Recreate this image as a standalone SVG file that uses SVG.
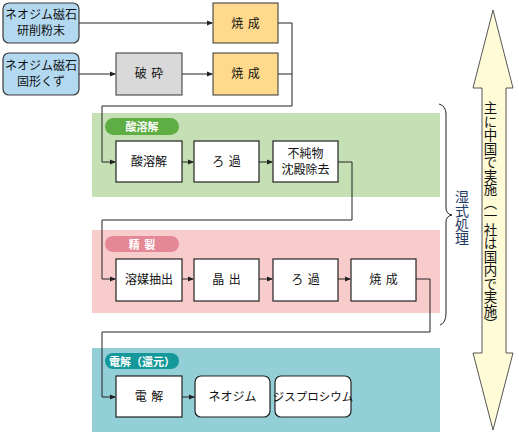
<svg xmlns="http://www.w3.org/2000/svg" width="519" height="435" viewBox="0 0 519 435">
<style>
text{font-family:"Noto Sans CJK JP","Noto Sans CJK SC",sans-serif;fill:#111;}
.t{font-size:12px;text-anchor:middle;}
.sp{word-spacing:2px;}
.pl{font-size:11px;font-weight:bold;fill:#fff;text-anchor:middle;}
.box{fill:#fff;stroke:#222;stroke-width:1.2;}
.src{fill:#b3d9f1;stroke:#3a3a3a;stroke-width:1.2;}
.y{fill:#ffd98c;stroke:#333;stroke-width:1;}
.g{fill:#d9d9d9;stroke:#333;stroke-width:1;}
.ln{fill:none;stroke:#222;stroke-width:1;}
.v{writing-mode:vertical-rl;text-anchor:middle;}
</style>
<defs>
<marker id="ah" markerWidth="6" markerHeight="6" refX="5" refY="3" orient="auto" markerUnits="userSpaceOnUse">
<path d="M0,0.5 L6,3 L0,5.5 Z" fill="#222"/>
</marker>
</defs>
<rect x="92" y="113" width="348" height="84" fill="#c5e0b4"/>
<rect x="92" y="230" width="348" height="83" fill="#f9cccc"/>
<rect x="92" y="348" width="348" height="84" fill="#93cfd6"/>
<g id="pill1"><rect x="105" y="118" width="74" height="17" rx="8.5" fill="#5fae44"/><text class="pl" x="142" y="131">酸溶解</text></g>
<g id="pill2"><rect x="105" y="236" width="74" height="16" rx="8" fill="#e58896"/><text class="pl sp" x="142" y="248.5">精 製</text></g>
<g id="pill3"><rect x="105" y="353" width="74" height="16" rx="8" fill="#14989a"/><text class="pl" x="142" y="365.5">電解（還元）</text></g>
<g id="connectors">
<path class="ln" d="M79,23 H212" marker-end="url(#ah)"/>
<path class="ln" d="M79,74 H115" marker-end="url(#ah)"/>
<path class="ln" d="M182,74 H212" marker-end="url(#ah)"/>
<path class="ln" d="M278,23 H292 V106 H102 V162 H115" marker-end="url(#ah)"/>
<path class="ln" d="M278,74 H292"/>
<path class="ln" d="M182,162 H193" marker-end="url(#ah)"/>
<path class="ln" d="M259,162 H272" marker-end="url(#ah)"/>
<path class="ln" d="M338,162 H352 V220 H102 V279 H115" marker-end="url(#ah)"/>
<path class="ln" d="M182,279 H193" marker-end="url(#ah)"/>
<path class="ln" d="M259,279 H272" marker-end="url(#ah)"/>
<path class="ln" d="M338,279 H350" marker-end="url(#ah)"/>
<path class="ln" d="M416,279 H430 V332 H102 V397 H115" marker-end="url(#ah)"/>
<path class="ln" d="M182,397 H194" marker-end="url(#ah)"/>
</g>
<g id="n1"><rect class="src" x="3" y="3" width="76" height="40" rx="6"/><text class="t" x="41" y="19">ネオジム磁石</text><text class="t" x="41" y="35">研削粉末</text></g>
<g id="n2"><rect class="src" x="3" y="53" width="76" height="42" rx="6"/><text class="t" x="41" y="70">ネオジム磁石</text><text class="t" x="41" y="86">固形くず</text></g>
<g id="n3"><rect class="y" x="213" y="3" width="65" height="40"/><text class="t sp" x="245.5" y="27.5">焼 成</text></g>
<g id="n4"><rect class="g" x="116" y="53" width="66" height="42"/><text class="t sp" x="149" y="78">破 砕</text></g>
<g id="n5"><rect class="y" x="213" y="53" width="65" height="42"/><text class="t sp" x="245.5" y="78">焼 成</text></g>
<g id="n6"><rect class="box" x="116" y="141" width="66" height="41"/><text class="t" x="149" y="166">酸溶解</text></g>
<g id="n7"><rect class="box" x="194" y="141" width="65" height="41"/><text class="t sp" x="226.5" y="166">ろ 過</text></g>
<g id="n8"><rect class="box" x="273" y="141" width="65" height="41"/><text class="t" x="305.5" y="158">不純物</text><text class="t" x="305.5" y="174">沈殿除去</text></g>
<g id="n9"><rect class="box" x="116" y="259" width="66" height="42"/><text class="t" x="149" y="284">溶媒抽出</text></g>
<g id="n10"><rect class="box" x="194" y="259" width="65" height="42"/><text class="t sp" x="226.5" y="284">晶 出</text></g>
<g id="n11"><rect class="box" x="273" y="259" width="65" height="42"/><text class="t sp" x="305.5" y="284">ろ 過</text></g>
<g id="n12"><rect class="box" x="351" y="259" width="65" height="42"/><text class="t sp" x="383.5" y="284">焼 成</text></g>
<g id="n13"><rect class="box" x="116" y="376" width="66" height="41"/><text class="t sp" x="149" y="401">電 解</text></g>
<g id="n14"><rect class="box" x="195" y="376" width="75" height="41" rx="6"/><text class="t" x="232.5" y="401">ネオジム</text></g>
<g id="n15"><rect class="box" x="275" y="376" width="76" height="41" rx="6"/><text class="t" x="313" y="401" style="font-size:11.5px">ジスプロシウム</text></g>
<g id="brace"><path class="ln" d="M439,104 Q446,106 446,114 V208 Q446,214 452,215 Q446,216 446,222 V313 Q446,323 440,325" stroke-width="1.2"/>
<text class="v" x="462" y="218" style="font-size:14px;fill:#1f3864">湿式処理</text></g>
<g id="arrow"><path d="M493,10 L513,88 H506 V353 H513 L493,430 L473,353 H482 V88 H473 Z" fill="#fffbd6" stroke="#555" stroke-width="1"/>
<text class="v" x="490.5" y="216" style="font-size:13.5px">主に中国で実施（一社は国内で実施）</text></g>
</svg>
